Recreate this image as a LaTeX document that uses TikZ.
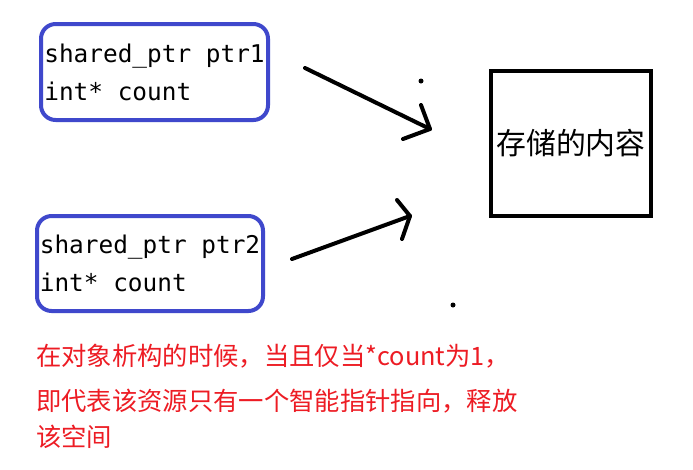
\documentclass[tikz,border=0pt]{standalone}
\usepackage{fontspec}
\usetikzlibrary{positioning}
\newfontfamily\cjk{Noto Sans CJK SC}
\newfontfamily\codefont{DejaVu Sans Mono}
\definecolor{boxblue}{RGB}{63,72,204}
\definecolor{notered}{RGB}{237,28,36}

\begin{document}
\begin{tikzpicture}[x=0.75pt,y=-0.75pt,
  ptrbox/.style={draw=boxblue, line width=3pt, rounded corners=11pt, align=left,
    inner sep=0pt, font=\codefont\fontsize{18.3}{28.5}\selectfont},
  store/.style={draw, line width=3pt, inner sep=0pt, font=\cjk\fontsize{22.4}{26}\selectfont},
  hand/.style={line width=3pt, line cap=round, line join=round}]
\useasboundingbox[fill=white] (0,0) rectangle (693,469);

% the two smart pointers
\node[ptrbox, minimum width=170.25pt, minimum height=72pt] (ptr1) at (154.5,72)
  {shared\_ptr ptr1\\int* count};
\node[ptrbox, minimum width=169.5pt, minimum height=71.25pt] (ptr2) at (150,263.5)
  {shared\_ptr ptr2\\int* count};

% the shared resource
\node[store, minimum width=120pt, minimum height=108.75pt] (res) at (571,143.5) {存储的内容};

% hand drawn arrows
\coordinate (a1s) at (305,68);
\coordinate (a1t) at (430,129);
\draw[hand] (a1s) -- (a1t);
\draw[hand] (421,105) -- (a1t) -- (403,139);
\coordinate (a2s) at (292,259);
\coordinate (a2t) at (410,216);
\draw[hand] (a2s) -- (a2t);
\draw[hand] (397,200) -- (a2t) -- (402,239);

% stray dots
\fill (421,81) circle (2.5);
\fill (453,305) circle (2.5);

% note
\node[anchor=north west, align=left, inner sep=0pt, text=notered,
  font=\cjk\fontsize{19}{27}\selectfont] (note) at (36,344)
  {在对象析构的时候，当且仅当*count为1，\\[7pt]即代表该资源只有一个智能指针指向，释放\\该空间};
\end{tikzpicture}
\end{document}
